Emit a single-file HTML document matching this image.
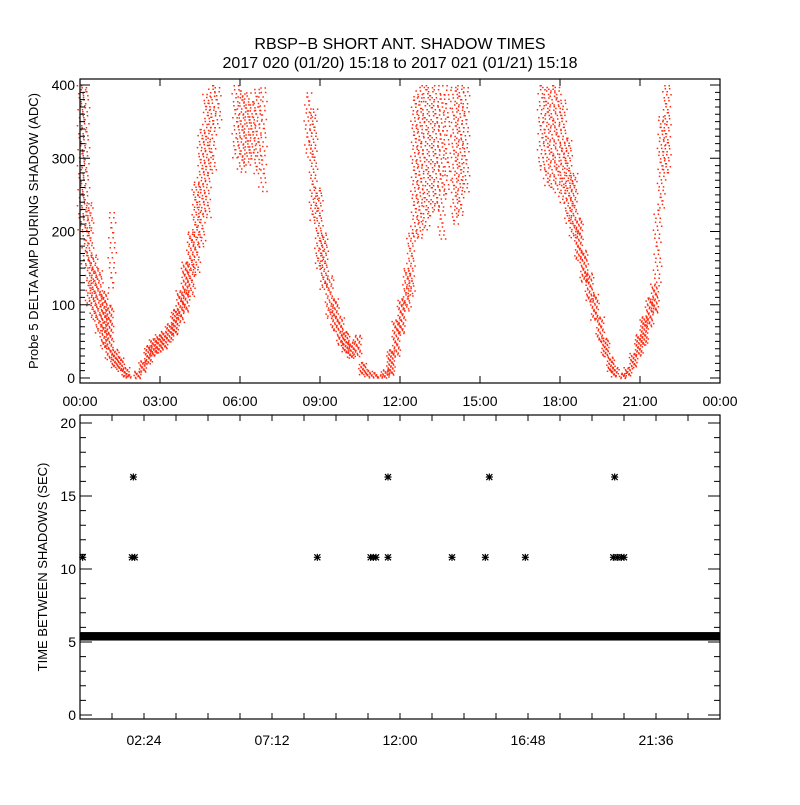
<!DOCTYPE html>
<html><head><meta charset="utf-8"><style>
body{margin:0;background:#fff}
svg text{font-family:"Liberation Sans",sans-serif;fill:#000}
</style></head><body>
<svg id="c" width="800" height="800" xmlns="http://www.w3.org/2000/svg">
<rect width="800" height="800" fill="#fff"/>
<text x="400" y="49" font-size="16" text-anchor="middle">RBSP−B SHORT ANT. SHADOW TIMES</text>
<text x="400" y="68" font-size="16" text-anchor="middle">2017 020 (01/20) 15:18 to 2017 021 (01/21) 15:18</text>
<g id="topPanel"></g>
<g id="botPanel"></g>
<text transform="translate(38,231) rotate(-90)" font-size="13" text-anchor="middle">Probe 5 DELTA AMP DURING SHADOW (ADC)</text>
<text transform="translate(47,567) rotate(-90)" font-size="13" text-anchor="middle">TIME BETWEEN SHADOWS (SEC)</text>
</svg>
<script>
// top panel band data: hour, low value, high value, dot spacing
const hours=[0.05,0.2,0.35,0.5,0.7,0.9,1.1,1.2,1.3,1.5,1.7,1.8,2.15,2.35,2.55,2.75,2.95,3.15,3.35,3.55,3.75,3.95,4.15,4.35,4.55,4.75,4.95,5.15,5.85,6.05,6.25,6.45,6.65,6.85,8.55,8.75,8.95,9.15,9.35,9.55,9.75,9.95,10.15,10.4,10.6,10.8,11.0,11.2,11.45,11.65,11.85,12.05,12.25,12.4,12.55,12.75,12.95,13.15,13.35,13.55,13.75,14.05,14.25,14.45,17.3,17.5,17.7,17.9,18.1,18.3,18.5,18.7,18.9,19.1,19.3,19.5,19.7,19.9,20.05,20.35,20.55,20.75,20.95,21.15,21.35,21.55,21.65,21.8,22.0];
const lows=[200,150,100,80,60,40,25,120,15,10,2,0,0,8,20,30,35,40,50,60,75,90,110,140,180,220,280,340,300,280,290,300,280,250,300,215,150,120,80,65,45,35,28,30,5,2,0,0,0,5,30,60,90,110,190,190,200,220,230,190,250,210,220,250,280,260,260,250,240,210,190,160,130,105,80,50,30,8,2,0,3,15,30,45,70,90,130,230,280];
const highs=[400,400,240,170,150,120,100,230,40,30,15,6,10,25,45,55,60,65,75,95,120,160,200,270,340,390,400,400,400,395,390,380,395,400,390,370,260,200,140,110,85,65,50,60,22,12,8,6,12,40,80,110,150,200,385,400,400,400,400,390,400,400,400,400,400,400,400,400,380,330,280,220,175,145,115,85,55,30,15,8,15,35,60,85,110,130,230,360,400];
const spacing=[8,8,5,4,4,3,3,10,2,2,2,2,2,2,2,2,2,2,2,2,3,3,4,5,6,6,7,8,8,6,6,6,7,9,8,6,5,4,4,3,3,2,2,3,2,2,2,2,2,2,3,3,4,5,7,7,8,8,8,8,9,7,7,8,8,7,7,7,6,5,4,3,3,3,3,3,2,2,2,2,2,2,2,2,3,3,8,7,6];
// bottom panel data
const starHours=[0.1,2.0,1.95,2.05,8.9,10.9,11.0,11.1,11.55,11.55,13.95,15.2,15.35,16.7,20.05,20.0,20.15,20.3,20.4];
const starValues=[10.8,16.3,10.8,10.8,10.8,10.8,10.8,10.8,10.8,16.3,10.8,10.8,16.3,10.8,16.3,10.8,10.8,10.8,10.8];
const bandStart=0, bandEnd=24, bandLow=5.1, bandHigh=5.68;
const topXTicks=["00:00","03:00","06:00","09:00","12:00","15:00","18:00","21:00","00:00"];
const topYTicks=[0,100,200,300,400];
const botXTicks=["02:24","07:12","12:00","16:48","21:36"];
const botYTicks=[0,5,10,15,20];

const NS="http://www.w3.org/2000/svg";
function mk(p,t,a){const e=document.createElementNS(NS,t);for(const k in a)e.setAttribute(k,a[k]);p.appendChild(e);return e;}
const L=80,R=720,T1=79,B1=383,T2=415,B2=719;
const xs=h=>L+(h/24)*(R-L);
const y1=v=>378-v*0.7325;
const y2=v=>715-v*14.6;
const topG=document.getElementById('topPanel'),botG=document.getElementById('botPanel');

// top dots
const nBands=Math.min(hours.length,lows.length,highs.length,spacing.length);
for(let i=0;i<nBands;i++){
  const st=spacing[i];let d="";
  const yHi=y1(highs[i]),yLo=y1(lows[i]);
  for(let j=0;j<4;j++){
    const x0=xs(hours[i])-3.2+j*1.8;
    const off=((j*2+i)%4)*st*0.25;
    let k=0;
    for(let y=yHi+off;y<=yLo;y+=st){
      const x=x0+(((k*7+j*3+i)%5)-2)*0.7;
      d+="M"+x.toFixed(1)+" "+y.toFixed(1)+"h1.5v1.5h-1.5z";k++;}
  }
  const p=mk(topG,'path',{d:d,fill:'#ff2a10'});
  
  
}
// top axes
let fr=mk(topG,'rect',{x:L,y:T1,width:R-L,height:B1-T1,fill:'none',stroke:'#000','stroke-width':1.2});


let tk="";
for(let i=0;i<topXTicks.length;i++){const x=xs(i*3);tk+=`M${x} ${B1}v-7M${x} ${T1}v7`;
  const t=mk(topG,'text',{x:x,y:406,'font-size':14,'text-anchor':'middle'});t.textContent=topXTicks[i];
  
  }
for(let v=0;v<=400;v+=10){const y=y1(v);const len=(v%100===0)?10:5;tk+=`M${L} ${y}h${len}M${R} ${y}h${-len}`;}
for(const v of topYTicks){const t=mk(topG,'text',{x:75,y:y1(v)+5,'font-size':14,'text-anchor':'end'});t.textContent=v;
  
  }
let tp=mk(topG,'path',{d:tk,stroke:'#000','stroke-width':1,fill:'none'});



// bottom band
let band=mk(botG,'rect',{x:xs(bandStart),y:y2(bandHigh),width:xs(bandEnd)-xs(bandStart),height:y2(bandLow)-y2(bandHigh),fill:'#000'});


for(let i=0;i<starHours.length;i++){
  const x=xs(starHours[i]),y=y2(starValues[i]);
  const g=mk(botG,'path',{d:`M${x-3.5} ${y}h7M${x} ${y-3.5}v7M${x-3} ${y-3}l6 6M${x+3} ${y-3}l-6 6`,stroke:'#000','stroke-width':1.2});
  
  
}
fr=mk(botG,'rect',{x:L,y:T2,width:R-L,height:B2-T2,fill:'none',stroke:'#000','stroke-width':1.2});


tk="";
for(let h=1.2;h<24;h+=1.2){const x=xs(h);tk+=`M${x} ${B2}v-6M${x} ${T2}v6`;}
for(let i=0;i<botXTicks.length;i++){const x=xs(2.4+i*4.8);
  const t=mk(botG,'text',{x:x,y:745,'font-size':14,'text-anchor':'middle'});t.textContent=botXTicks[i];
  
  }
for(let v=0;v<=20;v++){const y=y2(v);const len=(v%5===0)?12:6;tk+=`M${L} ${y}h${len}M${R} ${y}h${-len}`;}
for(const v of botYTicks){const t=mk(botG,'text',{x:76,y:y2(v)+5,'font-size':14,'text-anchor':'end'});t.textContent=v;
  
  }
tp=mk(botG,'path',{d:tk,stroke:'#000','stroke-width':1,fill:'none'});


</script>
</body></html>
